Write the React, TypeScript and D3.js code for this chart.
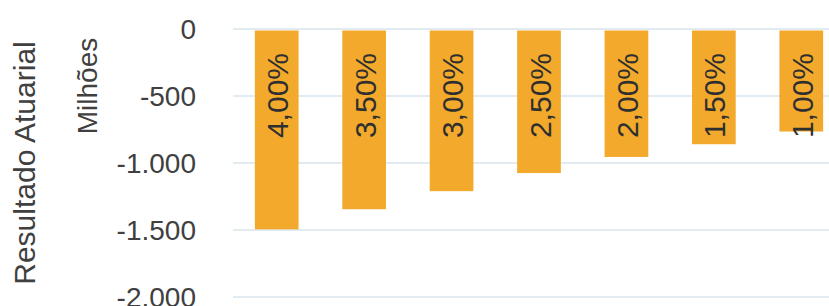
import React, { useEffect, useRef } from 'react';
import * as d3 from 'd3';

const rates = ['4,00%', '3,50%', '3,00%', '2,50%', '2,00%', '1,50%', '1,00%'];
const results = [-1495, -1345, -1210, -1075, -955, -860, -765];
const yTicks = [0, -500, -1000, -1500, -2000];
const yTickLabels = ['0', '-500', '-1.000', '-1.500', '-2.000'];

const W = 829;
const H = 306;

const App = () => {
    const ref = useRef<SVGSVGElement>(null);

    useEffect(() => {
        const svg = d3.select(ref.current);
        svg.selectAll('*').remove();

        const font = "'Liberation Sans', Arial, sans-serif";

        // plot area runs past the right edge, the picture is cut off there
        const x = d3.scaleBand<string>()
            .domain(rates)
            .range([233, 845])
            .paddingInner(0.5)
            .paddingOuter(0.25);

        const y = d3.scaleLinear()
            .domain([0, -2000])
            .range([29, 297]);

        // gridlines
        svg.append('g')
            .selectAll('line')
            .data(yTicks)
            .enter()
            .append('line')
            .attr('x1', 233)
            .attr('x2', W)
            .attr('y1', d => y(d))
            .attr('y2', d => y(d))
            .attr('stroke', '#c6d8e6')
            .attr('stroke-width', 1.2);

        // tick labels
        svg.append('g')
            .selectAll('text')
            .data(yTicks)
            .enter()
            .append('text')
            .attr('x', 196)
            .attr('y', d => y(d))
            .attr('text-anchor', 'end')
            .attr('dominant-baseline', 'central')
            .attr('font-family', font)
            .attr('font-size', 28)
            .attr('fill', '#404040')
            .text((d, i) => yTickLabels[i]);

        // axis titles
        svg.append('text')
            .attr('transform', 'translate(35,163) rotate(-90)')
            .attr('text-anchor', 'middle')
            .attr('font-family', font)
            .attr('font-size', 30)
            .attr('fill', '#404040')
            .text('Resultado Atuarial');

        svg.append('text')
            .attr('transform', 'translate(97,86) rotate(-90)')
            .attr('text-anchor', 'middle')
            .attr('font-family', font)
            .attr('font-size', 28)
            .attr('fill', '#404040')
            .text('Milhões');

        // bars
        svg.append('g')
            .selectAll('rect')
            .data(rates)
            .enter()
            .append('rect')
            .attr('x', d => x(d)!)
            .attr('y', y(0) + 1.5)
            .attr('width', x.bandwidth())
            .attr('height', (d, i) => y(results[i]) - y(0) - 1.5)
            .attr('fill', '#f3aa2c');

        // bar labels, all at the same height near the top
        svg.append('g')
            .selectAll('text')
            .data(rates)
            .enter()
            .append('text')
            .attr('transform', d => `translate(${x(d)! + x.bandwidth() / 2 + 1},53) rotate(-90)`)
            .attr('text-anchor', 'end')
            .attr('dominant-baseline', 'central')
            .attr('font-family', font)
            .attr('font-size', 30)
            .attr('fill', '#2f2f2f')
            .text(d => d);
    }, []);

    return (
        <svg
            ref={ref}
            width={W}
            height={H}
            style={{ position: 'absolute', left: 0, top: 0, background: '#fff' }}
        />
    );
};

export default App;
